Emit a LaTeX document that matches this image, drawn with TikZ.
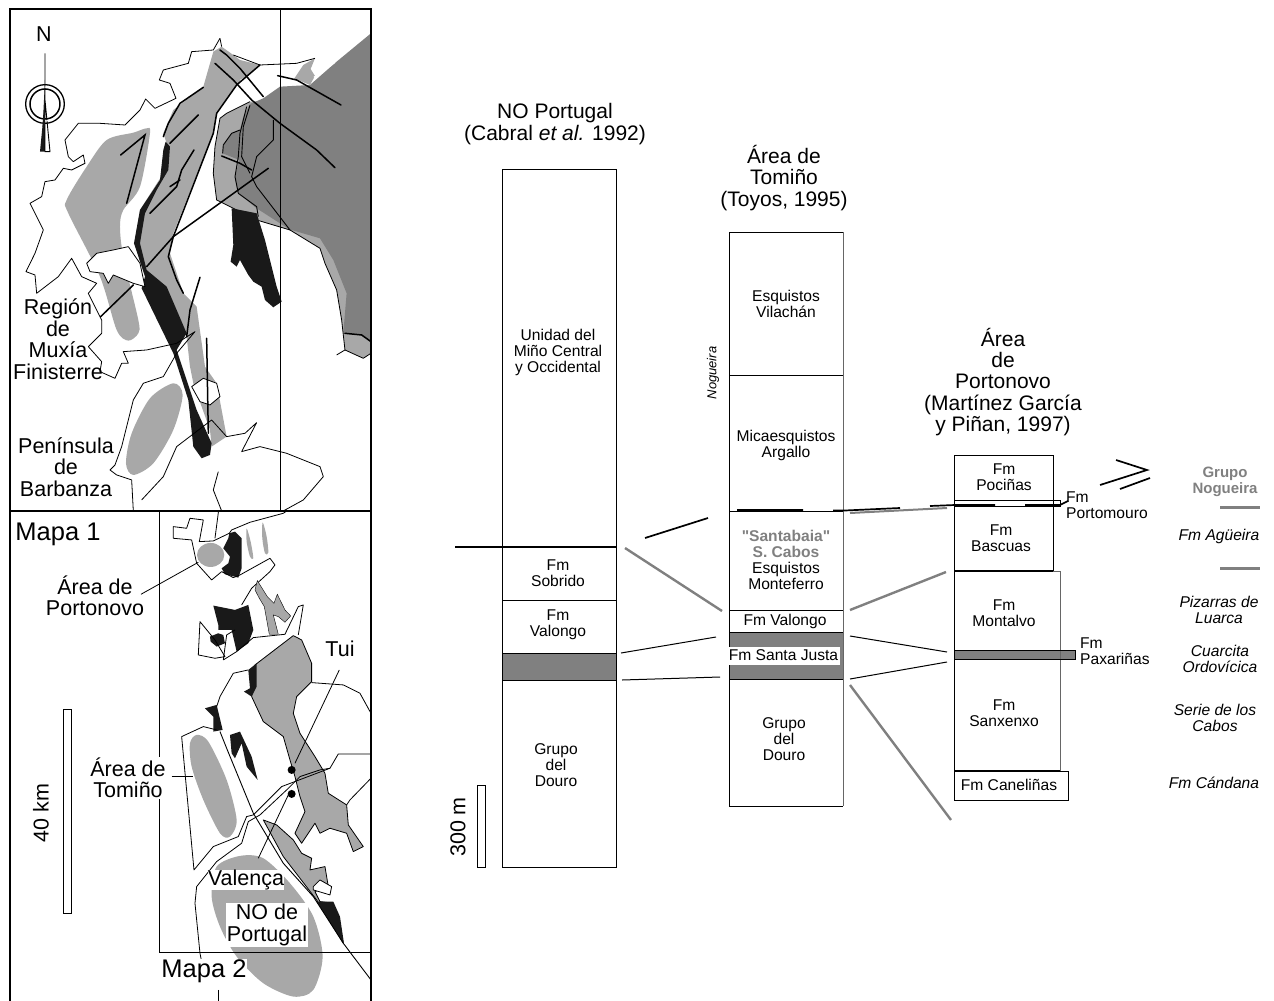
\documentclass[tikz,border=0pt]{standalone}
\usepackage{fontspec}
\setmainfont{Liberation Sans}
\newfontfamily\rawfont{Liberation Sans}
\usepackage{tikz}
\usetikzlibrary{calc,positioning}
\colorlet{lightrock}{black!34}
\colorlet{darkrock}{black!50}
\colorlet{inkrock}{black!90}

\tikzset{
  coast/.style={draw=black, line width=0.8pt, line join=round},
  fault/.style={draw=black, line width=1.5pt, line cap=round},
  thinfault/.style={draw=black, line width=0.9pt},
  unit/.style={align=center, inner sep=0pt, font=\fontsize{15.6}{16}\selectfont},
  maplabel/.style={align=center, inner sep=1pt, font=\fontsize{25.5}{28}\selectfont},
  maptag/.style={align=center, inner sep=1pt, font=\fontsize{21.5}{21.5}\selectfont},
  head/.style={align=center, inner sep=0pt, font=\fontsize{21}{21.4}\selectfont},
  legend/.style={align=center, inner sep=0pt, font=\fontsize{15.6}{16}\selectfont\itshape},
  colline/.style={draw=black, line width=0.9pt},
  corr/.style={draw=black, line width=1pt},
  corrgray/.style={draw=darkrock, line width=2.4pt},
  corrblack/.style={draw=black, line width=1.7pt},
}

\begin{document}
\begin{tikzpicture}[x=1pt, y=-1pt]
  \useasboundingbox (0,0) rectangle (1274,1001);

  % Map 1, typed in 3x crop units
  \begin{scope}[x=0.3333pt, y=-0.3333pt]
    \begin{scope}
      \clip (30,27) rectangle (1113,1533);
      % Dark and light rock at the right
      \fill[lightrock] (750,305) -- (680,340) -- (660,355) -- (645,440) -- (640,520) -- (650,600) -- (700,625) -- (770,660) -- (870,690) -- (960,745) -- (975,790) -- (1010,870) -- (1025,960) -- (1035,1050) -- (1090,1075) -- (1113,1060) -- (1113,300) -- cycle;
      \fill[darkrock] (1113,100) -- (1010,185) -- (930,255) -- (840,260) -- (790,295) -- (750,312) -- (730,350) -- (720,390) -- (695,400) -- (670,435) -- (668,460) -- (718,480) -- (705,530) -- (715,580) -- (770,625) -- (868,688) -- (960,715) -- (1000,780) -- (1040,880) -- (1030,1000) -- (1085,1005) -- (1113,1025) -- cycle;
      \fill[lightrock] (880,240) -- (910,195) -- (945,175) -- (932,207) -- (945,228) -- (930,255) -- (895,240) -- cycle;
      \draw[white, line width=1.2pt] (942,232) -- (1005,187);
      \draw[thinfault] (740,320) -- (720,400) -- (715,470) -- (705,530) -- (715,580) -- (770,620) -- (775,650);
      \draw[thinfault] (750,316) -- (730,380) -- (725,470) -- (750,520);
      \draw[thinfault] (820,360) -- (820,420) -- (770,470) -- (755,530) -- (770,560) -- (870,690);
      \draw[thinfault] (720,390) -- (695,400) -- (670,435) -- (668,460);
      \draw[coast] (750,305) -- (680,340) -- (660,355) -- (645,440) -- (640,520) -- (650,600) -- (700,625) -- (770,660) -- (870,690) -- (960,745) -- (975,790) -- (1010,870) -- (1025,960) -- (1035,1050) -- (1090,1075) -- (1113,1060);
      % Light ellipses
      \fill[lightrock] plot[smooth cycle] coordinates {(440,385) (450,400) (420,560) (370,630) (360,680) (370,770) (415,960) (415,1000) (385,1022) (350,990) (300,830) (205,640) (200,600) (260,500) (320,420) (400,398)};
      \fill[lightrock] plot[smooth cycle] coordinates {(520,1150) (548,1185) (520,1290) (460,1390) (400,1425) (378,1390) (395,1300) (450,1195)};
      % Central strip
      \fill[lightrock] (640,155) -- (665,140) -- (700,165) -- (720,180) -- (780,195) -- (710,255) -- (650,340) -- (640,400) -- (600,500) -- (520,700) -- (510,760) -- (550,880) -- (590,920) -- (615,1100) -- (650,1150) -- (680,1310) -- (635,1340) -- (630,1290) -- (580,1150) -- (570,1100) -- (560,1010) -- (520,930) -- (435,810) -- (405,720) -- (420,630) -- (490,520) -- (500,430) -- (490,400) -- (520,330) -- (610,260) -- cycle;
      \fill[inkrock] (497,425) -- (510,440) -- (505,510) -- (470,570) -- (435,640) -- (420,730) -- (440,810) -- (500,860) -- (560,1000) -- (530,1050) -- (590,1230) -- (635,1330) -- (630,1365) -- (605,1375) -- (580,1340) -- (565,1200) -- (520,1060) -- (425,865) -- (435,830) -- (402,730) -- (420,630) -- (480,540) -- (490,450) -- cycle;
      \fill[inkrock] (695,625) -- (770,640) -- (795,720) -- (830,860) -- (845,905) -- (820,922) -- (795,900) -- (785,860) -- (760,845) -- (745,825) -- (720,780) -- (710,800) -- (692,785) -- (700,735) -- cycle;
      % White patches
      \filldraw[fill=white, coast] (260,790) -- (290,760) -- (340,750) -- (385,740) -- (420,790) -- (435,860) -- (400,850) -- (340,825) -- (325,850) -- (310,820) -- (270,815) -- cycle;
      \filldraw[fill=white, coast] (575,1160) -- (610,1135) -- (650,1150) -- (660,1190) -- (630,1215) -- (600,1205) -- cycle;
      \fill[white] (720,240) -- (735,232) -- (790,290) -- (770,300) -- cycle;
      % Coast
      \draw[coast] (660,115) -- (640,150) -- (575,155) -- (565,190) -- (490,210) -- (478,240) -- (510,250) -- (528,295) -- (465,325) -- (437,297) -- (420,330) -- (375,375) -- (300,370) -- (235,370) -- (195,420) -- (205,470) -- (220,485) -- (250,465) -- (255,490) -- (215,510) -- (190,505) -- (165,540) -- (135,545) -- (125,590) -- (90,610) -- (130,690) -- (105,760) -- (78,815) -- (105,825) -- (110,880) -- (175,830) -- (215,775) -- (245,830) -- (290,850) -- (265,880) -- (305,960) -- (305,1000) -- (265,1040) -- (305,1085) -- (300,1115) -- (345,1135) -- (365,1090) -- (385,1090) -- (370,1055) -- (440,1050) -- (530,1030) -- (585,995) -- (530,1060) -- (490,1130) -- (430,1150) -- (400,1200) -- (365,1340) -- (345,1395) -- (330,1410) -- (350,1425) -- (395,1440) -- (400,1533);
      \draw[coast] (425,1500) -- (490,1430) -- (530,1340) -- (635,1260) -- (680,1310) -- (735,1300) -- (770,1268) -- (725,1355) -- (780,1340) -- (860,1360) -- (960,1400) -- (970,1430) -- (910,1500) -- (850,1533);
      \draw[coast] (660,115) -- (665,140);
      \draw[coast] (655,1415) -- (640,1470) -- (665,1533);
      \draw[coast] (700,165) -- (780,195) -- (890,190) -- (945,175);
      \draw[coast] (1010,1065) -- (1035,1050);
      % Faults
      \draw[fault] (645,190) -- (700,240) -- (755,300) -- (840,370) -- (950,450) -- (1005,503);
      \draw[fault] (660,150) -- (680,165) -- (720,205) -- (790,290);
      \draw[fault] (780,195) -- (710,255) -- (650,340) -- (640,400) -- (555,620) -- (520,710) -- (505,770) -- (530,840) -- (550,880);
      \draw[fault] (833,227) -- (890,240) -- (1023,315);
      \draw[fault] (665,468) -- (720,490) -- (755,510);
      \draw[fault] (805,505) -- (520,710) -- (440,800);
      \draw[fault] (400,855) -- (302,950);
      \draw[fault] (610,262) -- (540,310) -- (505,370) -- (490,410);
      \draw[fault] (595,345) -- (510,430);
      \draw[fault] (582,450) -- (545,510) -- (530,560) -- (490,600) -- (450,640);
      \draw[fault] (540,540) -- (510,560);
      \draw[fault] (362,465) -- (435,405) -- (380,610);
      \draw[fault] (600,832) -- (570,930) -- (560,1010);
      \draw[fault] (620,1015) -- (625,1300);
      \draw[fault] (1035,1000) -- (1085,1005) -- (1113,1025);
    \end{scope}
    % North arrow
    \fill[inkrock] (120,455) -- (135,300) -- (135,455) -- cycle;
    \draw[thinfault] (135,160) -- (135,455) -- (150,455) -- (135,300);
    \draw[line width=1.3pt] (135,312) circle[radius=58];
    \draw[line width=1.5pt] (135,312) circle[radius=45];
    \draw[line width=1pt, white] (135,312) circle[radius=51];
    \fill[inkrock] (128,380) -- (135,240) -- (135,380) -- cycle;
  \end{scope}

  % Map 2, typed in 3x crop units
  \begin{scope}[x=0.3333pt, y=-0.3333pt, shift={(0,1500)}]
    \begin{scope}
      \clip (30,33) rectangle (1113,1503);
      \fill[lightrock] plot[smooth cycle] coordinates {(720,1068) (790,1075) (870,1150) (940,1250) (968,1370) (940,1470) (880,1490) (790,1450) (710,1370) (660,1280) (635,1190) (650,1100)};
      \fill[lightrock] plot[smooth cycle] coordinates {(590,705) (625,725) (680,840) (710,960) (690,1010) (660,1000) (610,900) (575,800) (570,730)};
      \fill[lightrock] (632,165) circle[x radius=41, y radius=36];
      \fill[lightrock] plot[smooth cycle] coordinates {(740,85) (752,125) (760,175) (750,170) (740,125)};
      \fill[lightrock] plot[smooth cycle] coordinates {(788,67) (800,110) (805,158) (795,160) (787,115)};
      % Black rock at the top
      \fill[inkrock] (688,100) -- (705,95) -- (725,115) -- (725,205) -- (715,233) -- (675,223) -- (665,205) -- (685,190) -- (690,170) -- (670,145) -- (685,115) -- cycle;
      \fill[inkrock] (640,317) -- (705,330) -- (745,315) -- (760,390) -- (745,430) -- (710,455) -- (695,390) -- (655,390) -- (655,375) -- cycle;
      \fill[inkrock] (630,410) -- (655,400) -- (670,405) -- (675,430) -- (650,440) -- (632,425) -- cycle;
      % Outlines of the north
      \draw[coast] (660,0) -- (645,115);
      \draw[coast] (640,123) -- (688,100) -- (695,90) -- (750,67) -- (850,40) -- (910,0);
      \draw[coast] (640,123) -- (598,125) -- (610,60) -- (570,55) -- (560,85) -- (520,80) -- (520,115) -- (575,120) -- (590,190) -- (635,240) -- (665,215) -- (700,233) -- (720,225) -- (810,175) -- (825,195) -- (810,215) -- (755,265) -- (725,315);
      \draw[coast] (600,365) -- (645,420) -- (675,470) -- (645,475) -- (595,465) -- cycle;
      \draw[coast] (670,480) -- (680,405) -- (705,390);
      \draw[coast] (670,480) -- (710,455) -- (760,413) -- (855,403) -- (895,320) -- (910,315) -- (895,405);
      \filldraw[fill=lightrock, line width=0.4pt] (765,270) -- (772,242) -- (802,290) -- (822,310) -- (832,283) -- (855,330) -- (872,348) -- (855,367) -- (835,350) -- (820,345) -- (835,403) -- (808,403) -- (793,320) -- (778,295) -- cycle;
      % Big grey unit along the river
      \filldraw[fill=lightrock, coast] (880,407) -- (905,420) -- (935,490) -- (935,545) -- (890,590) -- (880,640) -- (900,700) -- (945,770) -- (975,820) -- (985,880) -- (1040,915) -- (1045,975) -- (1090,1040) -- (1060,1055) -- (1040,1000) -- (990,985) -- (960,1000) -- (945,970) -- (905,1030) -- (885,1000) -- (915,935) -- (900,890) -- (885,830) -- (870,780) -- (850,710) -- (790,665) -- (755,590) -- (765,495) -- cycle;
      \fill[inkrock] (745,510) -- (770,490) -- (770,560) -- (755,590) -- (732,575) -- (750,565) -- cycle;
      \fill[inkrock] (615,625) -- (650,615) -- (668,690) -- (640,695) -- (640,650) -- cycle;
      \fill[inkrock] (690,705) -- (720,695) -- (755,770) -- (773,840) -- (740,800) -- (725,730) -- (705,775) -- (695,760) -- cycle;
      % Outlines of the south
      \draw[coast] (650,690) -- (610,680) -- (545,710) -- (582,1110) -- (640,1040) -- (715,1010) -- (740,950) -- (760,945) -- (845,860) -- (990,805) -- (1015,762) -- (1113,762);
      \draw[coast] (605,1385) -- (600,1360) -- (585,1210) -- (590,1160) -- (650,1085) -- (725,1030) -- (745,965) -- (780,945) -- (860,870) -- (900,830) -- (960,810) -- (990,805);
      \draw[coast] (935,548) -- (1030,555) -- (1080,580) -- (1113,640);
      \draw[coast] (1113,835) -- (1050,900) -- (1040,915);
      \draw[coast] (745,510) -- (700,520) -- (660,590) -- (650,620);
      \draw[coast] (655,1470) -- (655,1503);
      \filldraw[fill=lightrock, coast] (790,960) -- (830,975) -- (880,1020) -- (905,1060) -- (935,1075) -- (930,1110) -- (975,1100) -- (985,1160) -- (945,1175) -- (960,1205) -- (1000,1210) -- (1030,1330) -- (950,1200) -- (850,1070) -- cycle;
      \filldraw[fill=white, coast] (940,1160) -- (960,1140) -- (995,1160) -- (990,1185) -- (940,1170) -- cycle;
      \fill[inkrock] (950,1205) -- (1000,1205) -- (1020,1250) -- (1032,1330) -- cycle;
      \draw[thinfault] (660,695) -- (680,745) -- (760,940) -- (850,1090) -- (940,1190) -- (1030,1330) -- (1113,1440);
      % Towns
      \fill (875,810) circle[radius=12];
      \fill (875,882) circle[radius=12];
      \draw[coast] (1018,510) -- (885,790);
      \draw[coast] (865,885) -- (775,1075);
      \draw[coast] (423,283) -- (595,187);
      \draw[coast] (515,830) -- (580,830);
    \end{scope}
  \end{scope}

  % Map frames
  \draw[line width=1.1pt] (10,9) rectangle (371,1010);
  \draw[line width=0.9pt] (280,9) -- (280,511);
  \draw[line width=1.1pt] (10,511) -- (371,511);
  \draw[line width=0.9pt] (159,511) -- (159,952) -- (371,952);

  % Map labels
  \node[maptag] (north) at (44,34) {N};
  \node[maptag] (muxia) at (58,339) {Región\\de\\Muxía\\Finisterre};
  \node[maptag] (barbanza) at (66,467) {Península\\de\\Barbanza};
  \node[maplabel] (mapa1) at (58,534) {Mapa 1};
  \node[maptag] (portonovo) at (95,596) {Área de\\Portonovo};
  \node[maptag] (tui) at (340,649) {Tui};
  \node[maptag, fill=white] (tomino) at (128,778) {Área de\\Tomiño};
  \node[maptag, fill=white, inner sep=0pt] (valenca) at (246,880) {Valença};
  \node[maptag, fill=white] (noport) at (267,925) {NO de\\Portugal};
  \node[maplabel, fill=white, inner sep=0pt] (mapa2) at (204,971) {Mapa 2};

  % Scale bars
  \draw[line width=0.8pt] (63,709) rectangle (71,913);
  \node[maptag, rotate=90] (km) at (41,813) {40 km};
  \draw[line width=0.8pt] (477,785) rectangle (485,867);
  \node[maptag, rotate=90] (metres) at (458,827) {300 m};

  % Column headings
  \node[head] (headA) at (555,124) {NO Portugal\\(Cabral \textit{et al.} 1992)};
  \node[head] (headB) at (784,178) {Área de\\Tomiño\\(Toyos, 1995)};
  \node[head] (headC) at (1003,382) {Área\\de\\Portonovo\\(Martínez García\\y Piñan, 1997)};

  % Column 1
  \fill[darkrock] (502,653) rectangle (616,680);
  \draw[colline] (502,169) rectangle (616,867);
  \draw[colline] (502,600) -- (616,600);
  \draw[colline] (502,653) -- (616,653) (502,680) -- (616,680);
  \node[unit] (minho) at (558,352) {Unidad del\\Miño Central\\y Occidental};
  \node[unit] (sobrido) at (558,573) {Fm\\Sobrido};
  \node[unit] (valongoA) at (558,625) {Fm\\Valongo};
  \node[unit] (douroA) at (556,765) {Grupo\\del\\Douro};

  % Column 2
  \fill[darkrock] (729,632) rectangle (843,679);
  \draw[colline] (729,232) -- (729,806) -- (843,806) (729,232) -- (843,232);
  \draw[draw=black!60, line width=1pt] (843,232) -- (843,806);
  \draw[colline] (729,375) -- (843,375);
  \draw[colline] (729,511) -- (843,511);
  \draw[colline] (729,610) -- (843,610);
  \draw[colline] (729,632) -- (843,632) (729,679) -- (843,679);
  \node[unit] (vilachan) at (786,304) {Esquistos\\Vilachán};
  \node[unit] (argallo) at (786,445) {Micaesquistos\\Argallo};
  \node[unit] (cabos) at (786,560) {{\rawfont\bfseries\color{darkrock}"Santabaia"}\\\bfseries\textcolor{darkrock}{S. Cabos}\\Esquistos\\Monteferro};
  \node[unit] (valongoB) at (785,621) {Fm Valongo};
  \node[unit, fill=white, minimum height=18pt, minimum width=113pt] (santajusta) at (783.5,655.5) {Fm Santa Justa};
  \node[unit] (douroB) at (784,739) {Grupo\\del\\Douro};
  \node[rotate=90, inner sep=0pt, font=\fontsize{13}{14}\selectfont\itshape] (nogueira) at (713,373) {Nogueira};

  % Column 3
  \fill[darkrock] (954,650) rectangle (1075,659);
  \draw[colline] (954,455) -- (1053,455) -- (1053,571) (954,455) -- (954,800);
  \draw[colline] (954,500) -- (1060,500) -- (1060,506) -- (954,506);
  \draw[draw=black!60, line width=0.9pt] (1053,571) -- (1060,571) -- (1060,771);
  \draw[colline] (954,650) rectangle (1075,659);
  \draw[line width=1.5pt] (954,571) -- (1053,571);
  \draw[colline] (954,771) rectangle (1068,800);
  \draw[line width=1.5pt] (954,771) -- (1060,771);
  \node[unit] (pocinas) at (1004,477) {Fm\\Pociñas};
  \node[unit] (bascuas) at (1001,538) {Fm\\Bascuas};
  \node[unit] (montalvo) at (1004,613) {Fm\\Montalvo};
  \node[unit] (sanxenxo) at (1004,713) {Fm\\Sanxenxo};
  \node[unit] (canelinas) at (1009,785) {Fm Caneliñas};
  \node[unit, align=left, anchor=west] (portomouro) at (1066,505) {Fm\\Portomouro};
  \node[unit, align=left, anchor=west] (paxarinas) at (1080,651) {Fm\\Paxariñas};

  % Correlation lines
  \draw[corrblack] (455,547) -- (616,547);
  \draw[corrblack] (645,538) -- (708,518);
  \draw[corrgray] (625,548) -- (722,611);
  \draw[corr] (621,653) -- (716,637);
  \draw[corr] (622,680) -- (720,677);
  \draw[corrgray] (850,610) -- (946,572);
  \draw[corr] (850,636) -- (947,652);
  \draw[corr] (850,679) -- (947,662);
  \draw[corrgray] (850,685) -- (951,820);
  % Thrust trace
  \draw[draw=darkrock, line width=2pt] (850,513) -- (947,508);
  \draw[corrblack] (737,510) -- (803,510) (833,510.5) -- (845,510.5) -- (900,508) (930,506) -- (955,505) -- (995,505) (1025,505) -- (1060,505) -- (1068,501);

  % Legend
  \draw[corrblack] (1116,460) -- (1147,470) -- (1100,485);
  \draw[corrblack] (1120,489) -- (1150,478);
  \node[unit, text=darkrock, font=\fontsize{15}{16}\selectfont\bfseries] (grupo) at (1225,482) {Grupo\\Nogueira};
  \draw[draw=darkrock, line width=3pt] (1220,507) -- (1260,507);
  \node[legend] (agueira) at (1219,536) {Fm Agüeira};
  \draw[draw=darkrock, line width=3pt] (1220,568) -- (1260,568);
  \node[legend] (luarca) at (1219,610) {Pizarras de\\Luarca};
  \node[legend] (cuarcita) at (1220,659) {Cuarcita\\Ordovícica};
  \node[legend] (serie) at (1215,718) {Serie de los\\Cabos};
  \node[legend] (candana) at (1214,783) {Fm Cándana};
\end{tikzpicture}
\end{document}
